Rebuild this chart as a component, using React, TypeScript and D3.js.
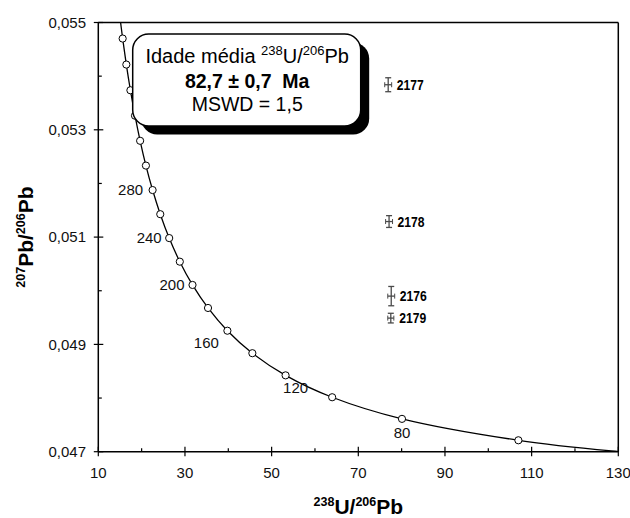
import React from 'react';
import * as d3 from 'd3';

// Concordia (Tera-Wasserburg) points, age in Ma
const curveAges = [40, 50, 60, 80, 100, 120, 140, 160, 180, 200, 220, 240, 260, 280, 300, 320, 340, 360, 380, 400, 420];
const curveX = [160.66, 128.43, 106.94, 80.08, 63.97, 53.22, 45.55, 39.79, 35.32, 31.74, 28.81, 26.36, 24.3, 22.53, 20.99, 19.65, 18.47, 17.41, 16.47, 15.62, 14.85];
const curveY = [0.046819, 0.047015, 0.047213, 0.047612, 0.048015, 0.048423, 0.048836, 0.049255, 0.049679, 0.050108, 0.050542, 0.050982, 0.051427, 0.051877, 0.052333, 0.052795, 0.053263, 0.053737, 0.054216, 0.054701, 0.055193];
const markerAges = [60, 80, 100, 120, 140, 160, 180, 200, 220, 240, 260, 280, 300, 320, 340, 360, 380, 400];
const labeledAges = [80, 120, 160, 200, 240, 280];

// Samples
const samples = ['2177', '2178', '2176', '2179'];
const sampleX = [76.9, 77.1, 77.6, 77.5];
const sampleY = [0.05384, 0.05129, 0.0499, 0.04949];
const sampleErrX = [0.8, 0.8, 0.8, 0.7];
const sampleErrY = [0.00013, 0.00011, 0.00018, 0.00009];

// Axes
const xMajor = [10, 30, 50, 70, 90, 110, 130];
const xMinor = [20, 40, 60, 80, 100, 120];
const yMajor = [0.047, 0.049, 0.051, 0.053, 0.055];
const yMinor = [0.048, 0.05, 0.052, 0.054];

const FONT = '"Liberation Sans", Arial, Helvetica, sans-serif';

// label placement per age: [dx, dy, anchor]
const agePlace: Record<number, [number, number, string]> = {
  80: [0, 13.5, 'middle'],
  120: [10, 12.5, 'middle'],
  160: [-21, 12.5, 'middle'],
  200: [-8, 0, 'end'],
  240: [-7.5, 0, 'end'],
  280: [-9.5, 0, 'end'],
};

export default function App() {
  const W = 630, H = 518;
  const x = d3.scaleLinear().domain([10, 130]).range([98.3, 618.3]);
  const y = d3.scaleLinear().domain([0.047, 0.055]).range([451.7, 22.5]);
  const [x0, x1] = x.range();
  const [yb, yt] = y.range();

  const pts: [number, number][] = curveX.map((v, i) => [x(v), y(curveY[i])]);
  const line = d3.line().curve(d3.curveCatmullRom.alpha(0.5))(pts) || '';
  const fmtY = (v: number) => d3.format('.3f')(v).replace('.', ',');

  const boxX = 132.7, boxY = 34, boxW = 228, boxH = 92, r = 16;
  const cx = boxX + boxW / 2 + 0.5;

  return (
    <svg width={W} height={H} style={{ position: 'absolute', left: 0, top: 0, background: '#fff' }} fontFamily={FONT}>
      <defs>
        <clipPath id="plot">
          <rect x={x0} y={yt} width={x1 - x0} height={yb - yt} />
        </clipPath>
      </defs>
      <rect width={W} height={H} fill="#fff" />

      {/* concordia */}
      <g clipPath="url(#plot)">
        <path d={line} fill="none" stroke="#000" strokeWidth={1.3} />
        {markerAges.map((a) => {
          const i = curveAges.indexOf(a);
          return <circle key={a} cx={x(curveX[i])} cy={y(curveY[i])} r={3.6} fill="#fff" stroke="#000" strokeWidth={1} />;
        })}
      </g>
      {labeledAges.map((a) => {
        const i = curveAges.indexOf(a);
        const [dx, dy, anchor] = agePlace[a];
        return (
          <text key={a} x={x(curveX[i]) + dx} y={y(curveY[i]) + dy} dy="0.35em" textAnchor={anchor} fontSize={15} fill="#111">
            {a}
          </text>
        );
      })}

      {/* samples */}
      {samples.map((s, i) => {
        const px = x(sampleX[i]);
        const py = y(sampleY[i]);
        const ex0 = x(sampleX[i] - sampleErrX[i]);
        const ex1 = x(sampleX[i] + sampleErrX[i]);
        const ey0 = y(sampleY[i] + sampleErrY[i]);
        const ey1 = y(sampleY[i] - sampleErrY[i]);
        const c = '#4a4a4a';
        return (
          <g key={s}>
            <line x1={px} x2={px} y1={ey0} y2={ey1} stroke={c} strokeWidth={1.3} />
            <line x1={px - 3} x2={px + 3} y1={ey0} y2={ey0} stroke={c} strokeWidth={1.3} />
            <line x1={px - 3} x2={px + 3} y1={ey1} y2={ey1} stroke={c} strokeWidth={1.3} />
            <line x1={ex0} x2={ex1} y1={py} y2={py} stroke={c} strokeWidth={1.3} />
            <line x1={ex0} x2={ex0} y1={py - 2.5} y2={py + 2.5} stroke={c} strokeWidth={1} />
            <line x1={ex1} x2={ex1} y1={py - 2.5} y2={py + 2.5} stroke={c} strokeWidth={1} />
            <text x={px + 8.5} y={py} dy="0.36em" fontSize={14.5} fontWeight="bold" textLength={27} lengthAdjust="spacingAndGlyphs" fill="#000">
              {s}
            </text>
          </g>
        );
      })}

      {/* frame and axes */}
      <line x1={x0} x2={x1} y1={yt} y2={yt} stroke="#000" strokeWidth={1.5} />
      <line x1={x1} x2={x1} y1={yt} y2={yb} stroke="#000" strokeWidth={1.5} />
      <line x1={x0} x2={x1} y1={yb} y2={yb} stroke="#000" strokeWidth={1.5} />
      <line x1={x0} x2={x0} y1={yt} y2={yb} stroke="#000" strokeWidth={1.5} />

      {xMajor.map((v) => (
        <g key={'xm' + v}>
          <line x1={x(v)} x2={x(v)} y1={yb - 5} y2={yb + 4.5} stroke="#000" strokeWidth={1.2} />
          <text x={x(v)} y={yb + 26.6} textAnchor="middle" fontSize={15} fill="#111">{v}</text>
        </g>
      ))}
      {xMinor.map((v) => (
        <line key={'xn' + v} x1={x(v)} x2={x(v)} y1={yb - 3.5} y2={yb} stroke="#000" strokeWidth={1.2} />
      ))}
      {yMajor.map((v) => (
        <g key={'ym' + v}>
          <line x1={x0 - 4.5} x2={x0 + 5} y1={y(v)} y2={y(v)} stroke="#000" strokeWidth={1.2} />
          <text x={86} y={y(v)} dy="0.35em" textAnchor="end" fontSize={15} fill="#111">{fmtY(v)}</text>
        </g>
      ))}
      {yMinor.map((v) => (
        <line key={'yn' + v} x1={x0} x2={x0 + 3.5} y1={y(v)} y2={y(v)} stroke="#000" strokeWidth={1.2} />
      ))}

      {/* axis titles */}
      <text x={(x0 + x1) / 2} y={514} textAnchor="middle" fontSize={21} fontWeight="bold" fill="#000">
        <tspan fontSize={12.5} dy={-8}>238</tspan>
        <tspan dy={8}>U/</tspan>
        <tspan fontSize={12.5} dy={-8}>206</tspan>
        <tspan dy={8}>Pb</tspan>
      </text>
      <text transform={`translate(33.3, ${(yt + yb) / 2}) rotate(-90)`} textAnchor="middle" fontSize={21} fontWeight="bold" fill="#000">
        <tspan fontSize={12.5} dy={-8}>207</tspan>
        <tspan dy={8}>Pb/</tspan>
        <tspan fontSize={12.5} dy={-8}>206</tspan>
        <tspan dy={8}>Pb</tspan>
      </text>

      {/* result box */}
      <rect x={boxX + 8.5} y={boxY + 8.5} width={boxW} height={boxH} rx={r} ry={r} fill="#000" />
      <rect x={boxX} y={boxY} width={boxW} height={boxH} rx={r} ry={r} fill="#fff" stroke="#000" strokeWidth={1.5} />
      <text x={cx} y={62.7} textAnchor="middle" fontSize={20} fill="#000">
        <tspan>Idade média </tspan>
        <tspan fontSize={13} dy={-8}>238</tspan>
        <tspan dy={8}>U/</tspan>
        <tspan fontSize={13} dy={-8}>206</tspan>
        <tspan dy={8}>Pb</tspan>
      </text>
      <text x={cx} y={88.3} textAnchor="middle" fontSize={19.5} fontWeight="bold" fill="#000" style={{ whiteSpace: 'pre' }}>
        {'82,7 ± 0,7  Ma'}
      </text>
      <text x={cx} y={110.7} textAnchor="middle" fontSize={19.5} fill="#000">
        MSWD = 1,5
      </text>
    </svg>
  );
}
